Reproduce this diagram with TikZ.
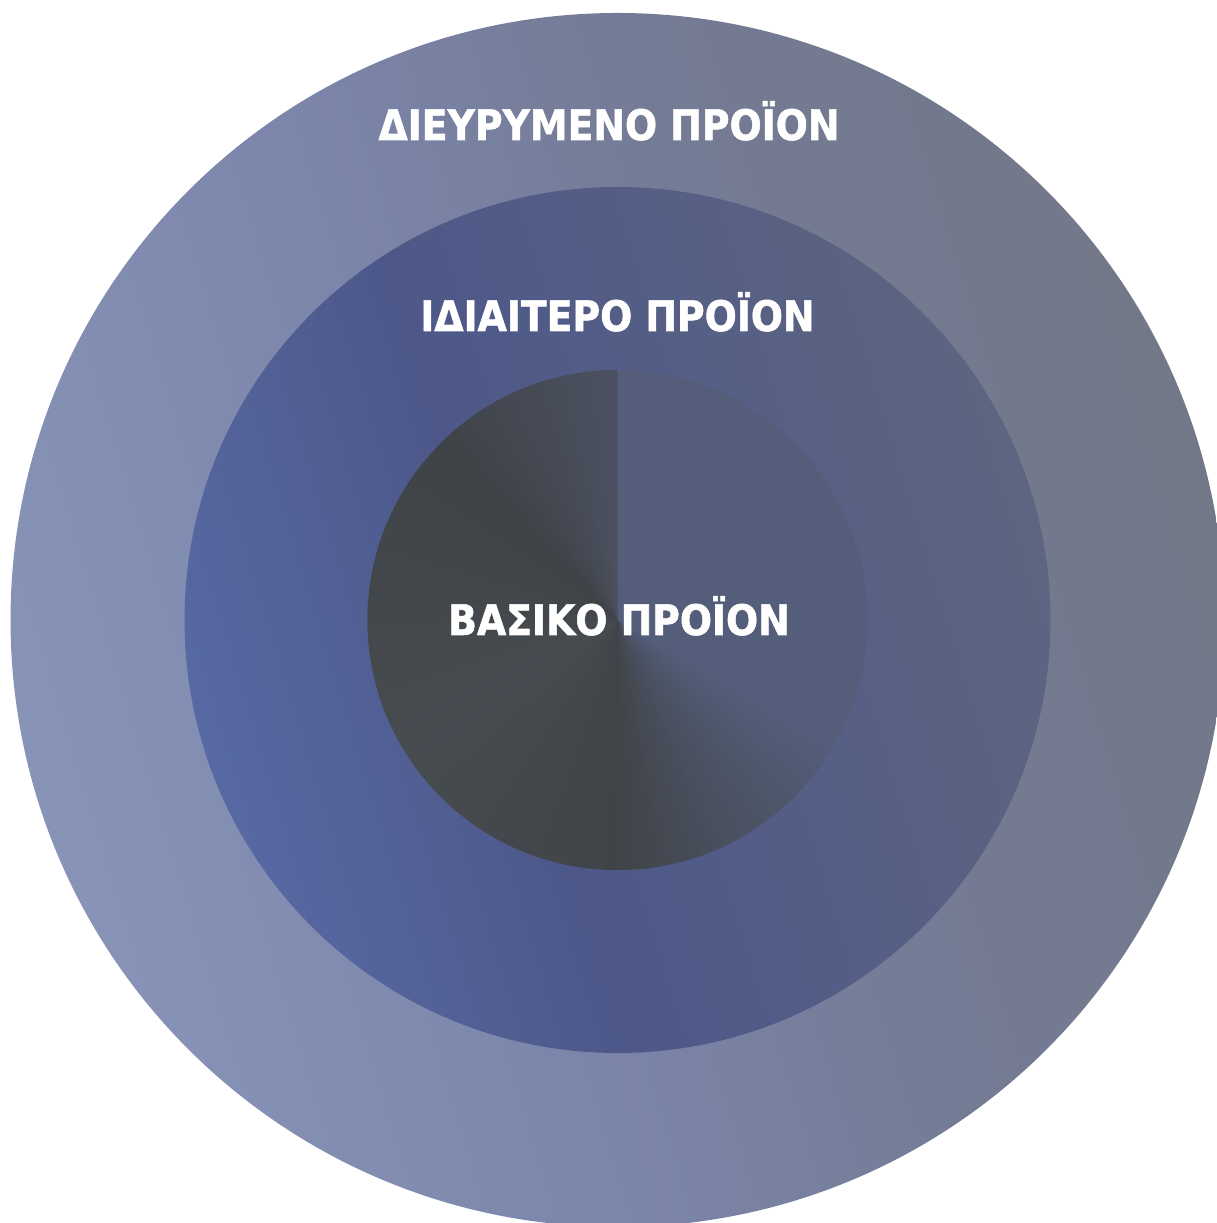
\documentclass[tikz,border=0pt]{standalone}
\usepackage{fontspec}
\newfontfamily\labfont{DejaVu Sans Condensed}[BoldFeatures={FakeBold=1.3}]
\usetikzlibrary{calc}
\definecolor{oA}{HTML}{8893B8}
\definecolor{oB}{HTML}{7C86AB}
\definecolor{oC}{HTML}{747B95}
\definecolor{oD}{HTML}{737888}
\definecolor{mA}{HTML}{5769A3}
\definecolor{mB}{HTML}{4D5889}
\definecolor{mD}{HTML}{5E6580}
\definecolor{iA}{HTML}{545E7B}
\definecolor{iB}{HTML}{404448}
\definecolor{iC}{HTML}{474C51}
\definecolor{iD}{HTML}{3F4347}
\definecolor{iE}{HTML}{4C5162}
\pgfdeclarehorizontalshading{outersh}{100bp}{color(0bp)=(oA); color(25bp)=(oA); color(42.5bp)=(oB); color(57.5bp)=(oC); color(75bp)=(oD); color(100bp)=(oD)}
\pgfdeclarehorizontalshading{middlesh}{100bp}{color(0bp)=(mA); color(25bp)=(mA); color(43.25bp)=(mB); color(75bp)=(mD); color(100bp)=(mD)}
\tikzset{lab/.style={font=\labfont\bfseries\fontsize{42}{50}\selectfont, text=white, inner sep=0pt, anchor=base}}
\begin{document}
\begin{tikzpicture}[x=1pt,y=1pt]
\useasboundingbox (0,0) rectangle (1217,1223);
\clip (0,0) rectangle (1217,1223);
\coordinate (O) at (617.5,603);
% outer circle
\shade[shading=outersh, shading angle=17] (O) circle[radius=607];
% middle circle
\shade[shading=middlesh, shading angle=17] (O) circle[radius=433];
% inner circle (conical gradient)
\begin{scope}
\clip (O) circle[radius=250];
\fill[iA] (O) circle[radius=251];
\foreach \ta/\tb/\ca/\cb in {120/180/iA/iB, 180/240/iB/iC, 240/315/iC/iD, 315/360/iD/iE} {
  \pgfmathtruncatemacro\n{\tb-\ta-1}
  \foreach \k in {0,...,\n} {
    \pgfmathsetmacro\f{100*(\k+0.5)/(\tb-\ta)}
    \pgfmathsetmacro\sa{90-\ta-\k}
    \pgfmathsetmacro\ea{(\ta+\k<359) ? (\sa-1.6) : (\sa-1)}
    \colorlet{wc}{\cb!\f!\ca}
    \fill[wc] (O) -- ($(O)+(\sa:262)$) arc[start angle=\sa, end angle=\ea, radius=262] -- cycle;
  }
}
\end{scope}
% labels
\node[lab] (ext) at (609,1083) {ΔΙΕΥΡΥΜΕΝΟ ΠΡΟΪΟΝ};
\node[lab] (spec) at (617.5,892) {ΙΔΙΑΙΤΕΡΟ ΠΡΟΪΟΝ};
\node[lab] (core) at (619,588) {ΒΑΣΙΚΟ ΠΡΟΪΟΝ};
\end{tikzpicture}
\end{document}
